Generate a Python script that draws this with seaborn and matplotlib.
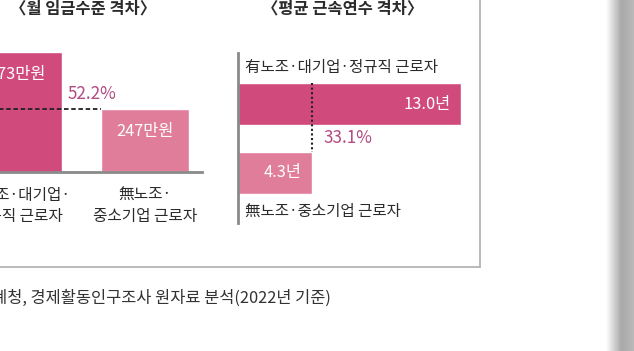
import matplotlib
matplotlib.use("Agg")
import numpy as np
import matplotlib.pyplot as plt
import seaborn as sns
from matplotlib.lines import Line2D
from matplotlib.colors import LinearSegmentedColormap

# ─── Data ────────────────────────────────────────────────────────────────────
wage_groups = ["有노조·대기업·\n정규직 근로자", "無노조·\n중소기업 근로자"]
wage_values = [473, 247]
wage_labels = ["473만원", "247만원"]
wage_gap = "52.2%"

tenure_groups = ["有노조·대기업·정규직 근로자", "無노조·중소기업 근로자"]
tenure_values = [13.0, 4.3]
tenure_labels = ["13.0년", "4.3년"]
tenure_gap = "33.1%"

titles = ["〈월 임금수준 격차〉", "〈평균 근속연수 격차〉"]
source = "통계청, 경제활동인구조사 원자료 분석(2022년 기준)"

# ─── Style ───────────────────────────────────────────────────────────────────
DARK = "#D14A7C"
LIGHT = "#E07D9B"
GAP_C = "#B24B82"
TXT = "#2b2b2b"
BORDER = "#b4b4b4"

W, H = 634, 351

sns.set_theme(style="white")
plt.rcParams["font.family"] = ["Noto Sans CJK KR", "DejaVu Sans"]

fig = plt.figure(figsize=(W / 100, H / 100), dpi=100)
fig.patch.set_facecolor("white")


def px_box(x0, y0, x1, y1):
    """pixel box (top-left origin) -> figure rect"""
    return [x0 / W, 1 - y1 / H, (x1 - x0) / W, (y1 - y0) / H]


# ─── Left: monthly wage (vertical bars) ──────────────────────────────────────
ax1 = fig.add_axes(px_box(-84, 20, 202, 172))
w1 = 0.69
sns.barplot(x=wage_groups, y=wage_values, hue=wage_groups,
            palette=[DARK, LIGHT], saturation=1, width=w1,
            legend=False, ax=ax1)
ax1.set_xlim(-0.8, 1.449)
ax1.set_ylim(0, 599)
ax1.set_xlabel(""); ax1.set_ylabel("")
ax1.set_yticks([])
ax1.set_xticks([0, 1])
ax1.set_xticklabels(wage_groups, fontsize=11.3, color=TXT, linespacing=1.35)
ax1.tick_params(axis="x", length=0, pad=10.5)
for s in ["top", "right", "left"]:
    ax1.spines[s].set_visible(False)
ax1.spines["bottom"].set_color("#8a8a8a")
ax1.spines["bottom"].set_linewidth(2)
ax1.patch.set_alpha(0)

ax1.plot([-w1 / 2, 1 - w1 / 2], [wage_values[1]] * 2,
         ls=(0, (2.5, 1.5)), color="#222", lw=1.3)
ax1.annotate(wage_gap, (w1 / 2, wage_values[1]), xytext=(4, 11),
             textcoords="offset points", ha="left", va="center",
             fontsize=12.3, color=GAP_C)
for i, (v, lab) in enumerate(zip(wage_values, wage_labels)):
    ax1.annotate(lab, (i, v), xytext=(0, -16), textcoords="offset points",
                 ha="center", va="center", fontsize=11.8, color="white")

# ─── Right: average tenure (horizontal bars) ─────────────────────────────────
ax2 = fig.add_axes(px_box(238, 53, 480, 223))
h2 = 0.613
sns.barplot(x=tenure_values, y=tenure_groups, hue=tenure_groups,
            palette=[DARK, LIGHT], saturation=1, width=h2, orient="h",
            legend=False, ax=ax2)
ax2.set_xlim(0, 14.11)
ax2.set_ylim(1.737, -0.745)
ax2.set_xlabel(""); ax2.set_ylabel("")
ax2.set_xticks([]); ax2.set_yticks([])
for s in ["top", "right", "bottom"]:
    ax2.spines[s].set_visible(False)
ax2.spines["left"].set_color("#8a8a8a")
ax2.spines["left"].set_linewidth(2)
ax2.patch.set_alpha(0)

ax2.plot([tenure_values[1]] * 2, [-h2 / 2, 1 - h2 / 2],
         ls=(0, (1, 1.2)), color="#222", lw=1.5)
ax2.annotate(tenure_gap, (tenure_values[1], 0.5), xytext=(8.5, 0),
             textcoords="offset points", ha="left", va="center",
             fontsize=12.3, color=GAP_C)
for i, (v, lab) in enumerate(zip(tenure_values, tenure_labels)):
    ax2.annotate(lab, (v, i), xytext=(-7, 0), textcoords="offset points",
                 ha="right", va="center", fontsize=11.8, color="white")
for i, (g, dy) in enumerate(zip(tenure_groups, [26, -28])):
    ax2.annotate(g, (0, i), xytext=(5, dy), textcoords="offset points",
                 ha="left", va="center", fontsize=11.2, color=TXT)

# ─── Titles, frame, source ───────────────────────────────────────────────────
fig.text(83 / W, 1 - 8 / H, titles[0], ha="center", va="center",
         fontsize=11.8, fontweight="bold", color=TXT)
fig.text(343 / W, 1 - 8 / H, titles[1], ha="center", va="center",
         fontsize=11.8, fontweight="bold", color=TXT)

fig.add_artist(Line2D([480 / W, 480 / W], [1 - 267 / H, 1.01],
                      color=BORDER, lw=1.3))
fig.add_artist(Line2D([-0.01, 480 / W], [1 - 267 / H] * 2,
                      color=BORDER, lw=1.3))

fig.text(-23 / W, 1 - 298 / H, source, ha="left", va="center",
         fontsize=11.8, color="#333333")

# grey page edge on the right
ax3 = fig.add_axes(px_box(606, 0, 634, 351))
edge = LinearSegmentedColormap.from_list(
    "edge", [(0, "white"), (0.55, "#a9a9a9"), (1, "#b9b9b9")])
ax3.imshow(np.linspace(0, 1, 64)[None, :], aspect="auto", cmap=edge)
ax3.axis("off")

fig.savefig("out.png", dpi=100, facecolor="white")
